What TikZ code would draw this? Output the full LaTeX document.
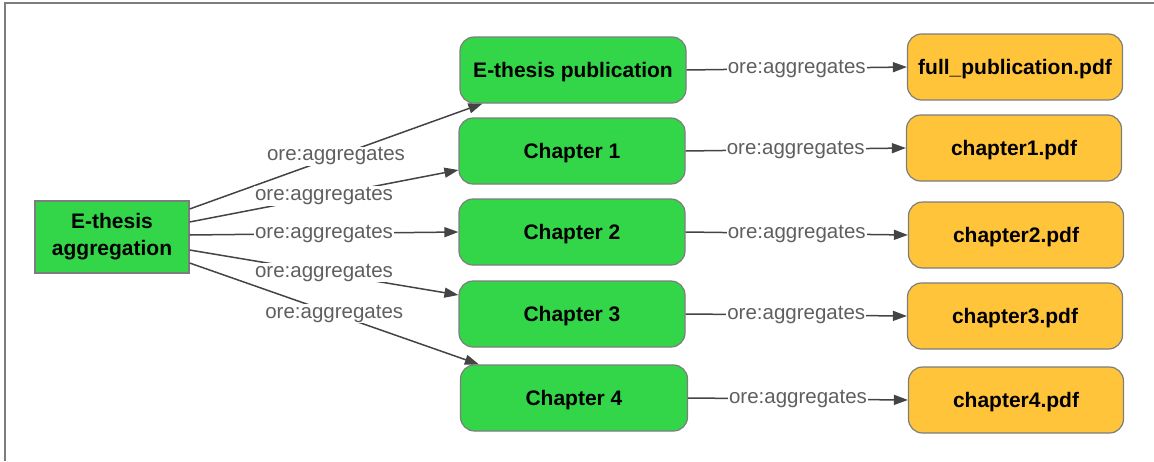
\documentclass[tikz,border=0pt]{standalone}
\usepackage{fontspec}
\setmainfont{Liberation Sans}
\usetikzlibrary{arrows.meta}
\definecolor{ngreen}{RGB}{50,214,72}
\definecolor{norange}{RGB}{255,196,58}
\definecolor{nborder}{RGB}{125,125,125}
\definecolor{edgec}{RGB}{68,68,68}
\definecolor{labc}{RGB}{95,95,95}
\begin{document}
\begin{tikzpicture}[x=1pt,y=-1pt,
  box/.style={draw=nborder, line width=1.2pt, fill=ngreen, font=\fontsize{21}{27}\selectfont\bfseries, align=center, inner sep=0pt},
  gbox/.style={box, rounded corners=14pt, fill=ngreen, minimum width=226pt, minimum height=66pt, text depth=0pt},
  obox/.style={box, rounded corners=14pt, fill=norange, minimum width=215pt, minimum height=66pt, text depth=0pt},
  conn/.style={draw=edgec, line width=1.5pt, -{Triangle[length=14pt,width=10pt]}},
  lab/.style={fill=white, text=labc, font=\fontsize{20.5}{23}\selectfont, inner sep=1pt}
]
\useasboundingbox (0,0) rectangle (1154,461);
\draw[nborder, line width=1.5pt] (1154,3) -- (5,3) -- (5,461);

\node[box, minimum width=154pt, minimum height=72pt] (agg) at (112,237) {E-thesis\\aggregation};

\node[gbox] (pub) at (573,70) {E-thesis publication};
\node[gbox] (ch1) at (572,151) {Chapter 1};
\node[gbox] (ch2) at (572,232) {Chapter 2};
\node[gbox] (ch3) at (572,314) {Chapter 3};
\node[gbox, minimum width=227pt] (ch4) at (574,398) {Chapter 4};

\node[obox] (f0) at (1015,67) {full\_publication.pdf};
\node[obox] (f1) at (1014,148) {chapter1.pdf};
\node[obox] (f2) at (1016,235) {chapter2.pdf};
\node[obox] (f3) at (1015,316) {chapter3.pdf};
\node[obox] (f4) at (1016,400) {chapter4.pdf};

\draw[conn] ([yshift=28pt]agg.east) -- node[lab]{ore:aggregates} ([xshift=23pt]pub.south west);
\draw[conn] ([yshift=15pt]agg.east) -- node[lab]{ore:aggregates} ([yshift=-19pt]ch1.west);
\draw[conn] ([yshift=2pt]agg.east) -- node[lab]{ore:aggregates} (ch2.west);
\draw[conn] ([yshift=-13pt]agg.east) -- node[lab]{ore:aggregates} ([yshift=19pt]ch3.west);
\draw[conn] ([yshift=-26pt]agg.east) -- node[lab]{ore:aggregates} ([xshift=19pt]ch4.north west);

\draw[conn] (pub.east) -- node[lab]{ore:aggregates} (f0.west);
\draw[conn] (ch1.east) -- node[lab]{ore:aggregates} (f1.west);
\draw[conn] (ch2.east) -- node[lab]{ore:aggregates} (f2.west);
\draw[conn] (ch3.east) -- node[lab]{ore:aggregates} (f3.west);
\draw[conn] (ch4.east) -- node[lab]{ore:aggregates} (f4.west);
\end{tikzpicture}
\end{document}
